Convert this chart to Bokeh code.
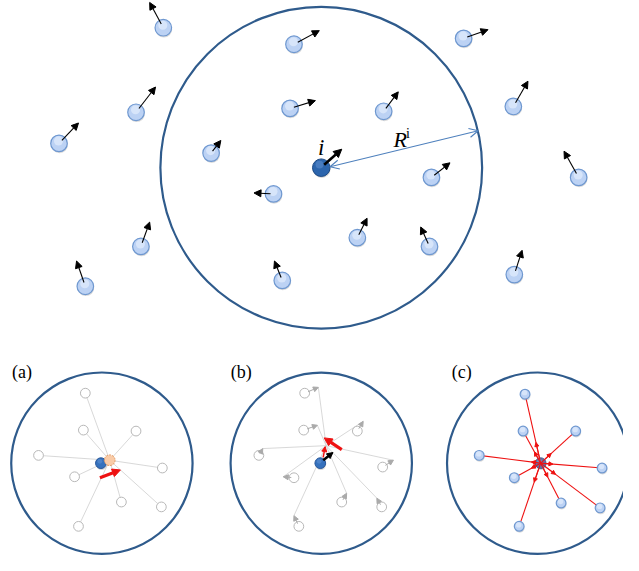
from bokeh.plotting import figure
from bokeh.models import Range1d, Arrow, NormalHead, OpenHead, ColumnDataSource
from bokeh.core.properties import value
from bokeh.embed import file_html
from bokeh.resources import INLINE

# ---------------- data ----------------
# top panel: neighbourhood circle
big_circle = dict(x=329, y=172, r=165)
# light-blue particles (centre) and their velocity vectors
part_x = [167, 139, 60, 475, 526, 593, 144, 87, 527, 301, 297, 393, 216, 442, 280, 366, 289, 440]
part_y = [28, 115, 147, 39, 109, 182, 253, 294, 282, 45, 111, 114, 157, 182, 199, 244, 288, 253]
vel_dx = [-14, 20, 20, 25, 15, -15, 9, -9, 8, 26, 26, 15, 10, 19, -20, 10, -8, -9]
vel_dy = [-26, -26, -21, -9, -26, -27, -25, -26, -25, -14, -8, -20, -13, -15, -1, -20, -20, -20]
focal_x, focal_y = [329], [172]
focal_dx, focal_dy = [21], [-19]
radius_arrow_x = [338, 490]
radius_arrow_y = [171, 134]

# bottom panels
panel_names = ["(a)", "(b)", "(c)"]
panel_cx = [104, 329, 551]
panel_cy = [476, 476, 476]
label_x = [22, 247, 473]
label_y = [382, 382, 382]

a_x = [87, 85, 139, 39, 166, 76, 124, 165, 80]
a_y = [404, 442, 443, 468, 481, 490, 516, 521, 541]
a_focal = (103, 476)
a_ghost = (112, 473)
a_force_x = [102, 123]
a_force_y = [491, 483]

b_x = [312, 311, 366, 265, 392, 301, 350, 391, 306]
b_y = [404, 442, 443, 468, 480, 491, 516, 521, 541]
b_tip_x = [326, 325, 372, 269, 403, 290, 355, 386, 301]
b_tip_y = [398, 437, 433, 461, 473, 490, 507, 512, 530]
b_target = (334, 458)
b_focal = (328, 476)
b_vel_x, b_vel_y = [331, 341], [473, 465]
b_small_x, b_small_y = [331, 333], [470, 459]
b_big_x, b_big_y = [350, 332], [462, 450]

c_x = [538, 536, 590, 491, 617, 527, 575, 615, 532]
c_y = [405, 443, 443, 468, 481, 491, 517, 522, 541]
c_focal = (554, 476)
c_frac = [0.3, 0.35, 0.3, 0.15, 0.2, 0.35, 0.35, 0.25, 0.3]

# ---------------- figure ----------------
p = figure(width=623, height=555, x_range=Range1d(0, 639), y_range=Range1d(571, 0),
           output_backend="svg", toolbar_location=None, min_border=0,
           x_axis_type=None, y_axis_type=None)
p.grid.visible = False
p.outline_line_color = None
p.background_fill_color = "white"

CIRC = "#2f5b8c"
LB_FILL, LB_LINE, LB_HI = "#bcd2f4", "#6f98d0", "#e2ecfc"


def light_particles(xs, ys, r):
    p.circle(x=[x + 0.6 for x in xs], y=[y + 1.6 for y in ys], radius=r,
             fill_color="#888888", fill_alpha=0.3, line_color=None)
    p.circle(x=xs, y=ys, radius=r, fill_color=LB_FILL, line_color=LB_LINE, line_width=1.2)
    p.circle(x=[x - 0.5 for x in xs], y=[y - r * 0.3 for y in ys], radius=r * 0.55,
             fill_color=LB_HI, fill_alpha=0.7, line_color=None)


def dark_particle(x, y, r, base="#2c65ad", edge="#1d4a85", hi="#6a9ad6"):
    p.circle(x=[x + 0.5], y=[y + 1.5], radius=r, fill_color="#777777", fill_alpha=0.3, line_color=None)
    p.circle(x=[x], y=[y], radius=r, fill_color=base, line_color=edge, line_width=1)
    p.circle(x=[x - r * 0.2], y=[y - r * 0.35], radius=r * 0.45, fill_color=hi,
             fill_alpha=0.45, line_color=None)


def arrows(x0, y0, x1, y1, color, width, size):
    src = ColumnDataSource(dict(x0=x0, y0=y0, x1=x1, y1=y1))
    p.add_layout(Arrow(x_start="x0", y_start="y0", x_end="x1", y_end="y1", source=src,
                       line_color=color, line_width=width,
                       end=NormalHead(size=size, fill_color=color, line_color=color, line_width=1)))


# ---- top panel ----
p.circle(x=[big_circle["x"]], y=[big_circle["y"]], radius=big_circle["r"],
         fill_color=None, line_color=CIRC, line_width=2.2)
light_particles(part_x, part_y, 8.5)
arrows([x + 0.15 * dx for x, dx in zip(part_x, vel_dx)], [y + 0.15 * dy for y, dy in zip(part_y, vel_dy)],
       [x + dx for x, dx in zip(part_x, vel_dx)], [y + dy for y, dy in zip(part_y, vel_dy)],
       "black", 1.1, 7)
dark_particle(focal_x[0], focal_y[0], 9)
arrows([focal_x[0] + 3], [focal_y[0] - 3], [focal_x[0] + focal_dx[0]], [focal_y[0] + focal_dy[0]],
       "black", 2.6, 8)
p.add_layout(Arrow(x_start=radius_arrow_x[0], y_start=radius_arrow_y[0],
                   x_end=radius_arrow_x[1], y_end=radius_arrow_y[1],
                   line_color="#4f81bd", line_width=1.1,
                   start=OpenHead(size=9, line_color="#4f81bd", line_width=1.1),
                   end=OpenHead(size=9, line_color="#4f81bd", line_width=1.1)))
p.text(x=[329], y=[151], text=["i"], text_font=value("Liberation Serif"), text_font_style="italic",
       text_font_size="23px", text_align="center", text_baseline="middle", text_color="black")
p.text(x=[410], y=[143], text=["R"], text_font=value("Liberation Serif"), text_font_style="italic",
       text_font_size="22px", text_align="center", text_baseline="middle", text_color="black")
p.text(x=[418], y=[137], text=["i"], text_font=value("Liberation Serif"),
       text_font_size="14px", text_align="center", text_baseline="middle", text_color="black")

# ---- bottom panels ----
p.circle(x=panel_cx, y=panel_cy, radius=93, fill_color=None, line_color=CIRC, line_width=2.2)
p.text(x=label_x, y=label_y, text=panel_names, text_font=value("Liberation Serif"),
       text_font_size="18px", text_align="center", text_baseline="middle", text_color="black")

# (a)
p.segment(x0=a_x, y0=a_y, x1=[a_ghost[0]] * len(a_x), y1=[a_ghost[1]] * len(a_y),
          line_color="#d4d4d4", line_width=0.9)
p.circle(x=a_x, y=a_y, radius=5, fill_color="white", line_color="#b8b8b8", line_width=1)
dark_particle(a_focal[0], a_focal[1], 5.5, base="#3571bd", edge="#28579a")
p.circle(x=[a_ghost[0]], y=[a_ghost[1]], radius=5.5, fill_color="#f9cba7",
         line_color="#e39a62", line_width=1, line_dash="2 1")
arrows([a_force_x[0]], [a_force_y[0]], [a_force_x[1]], [a_force_y[1]], "#ee1111", 3.2, 8)

# (b)
p.segment(x0=b_tip_x, y0=b_tip_y, x1=[b_target[0]] * len(b_x), y1=[b_target[1]] * len(b_y),
          line_color="#d4d4d4", line_width=0.9)
p.circle(x=b_x, y=b_y, radius=5, fill_color="white", line_color="#b8b8b8", line_width=1)
arrows([x + 0.25 * (tx - x) for x, tx in zip(b_x, b_tip_x)],
       [y + 0.25 * (ty - y) for y, ty in zip(b_y, b_tip_y)], b_tip_x, b_tip_y, "#aaaaaa", 1, 5)
dark_particle(b_focal[0], b_focal[1], 5.5, base="#3571bd", edge="#28579a")
arrows([b_vel_x[0]], [b_vel_y[0]], [b_vel_x[1]], [b_vel_y[1]], "black", 2.6, 6)
arrows([b_small_x[0]], [b_small_y[0]], [b_small_x[1]], [b_small_y[1]], "#ee1111", 1.5, 5)
arrows([b_big_x[0]], [b_big_y[0]], [b_big_x[1]], [b_big_y[1]], "#ee1111", 3.2, 8)

# (c)
p.segment(x0=c_x, y0=c_y, x1=[c_focal[0]] * len(c_x), y1=[c_focal[1]] * len(c_y),
          line_color="#ee1111", line_width=1.1)
arrows([c_focal[0]] * len(c_x), [c_focal[1]] * len(c_y),
       [c_focal[0] + f * (x - c_focal[0]) for x, f in zip(c_x, c_frac)],
       [c_focal[1] + f * (y - c_focal[1]) for y, f in zip(c_y, c_frac)], "#ee1111", 1.1, 4)
light_particles(c_x, c_y, 5)
dark_particle(c_focal[0], c_focal[1], 5.5, base="#5f73a6", edge="#4a5c8c", hi="#9aa8cc")

open("out.html", "w").write(file_html(p, INLINE))
